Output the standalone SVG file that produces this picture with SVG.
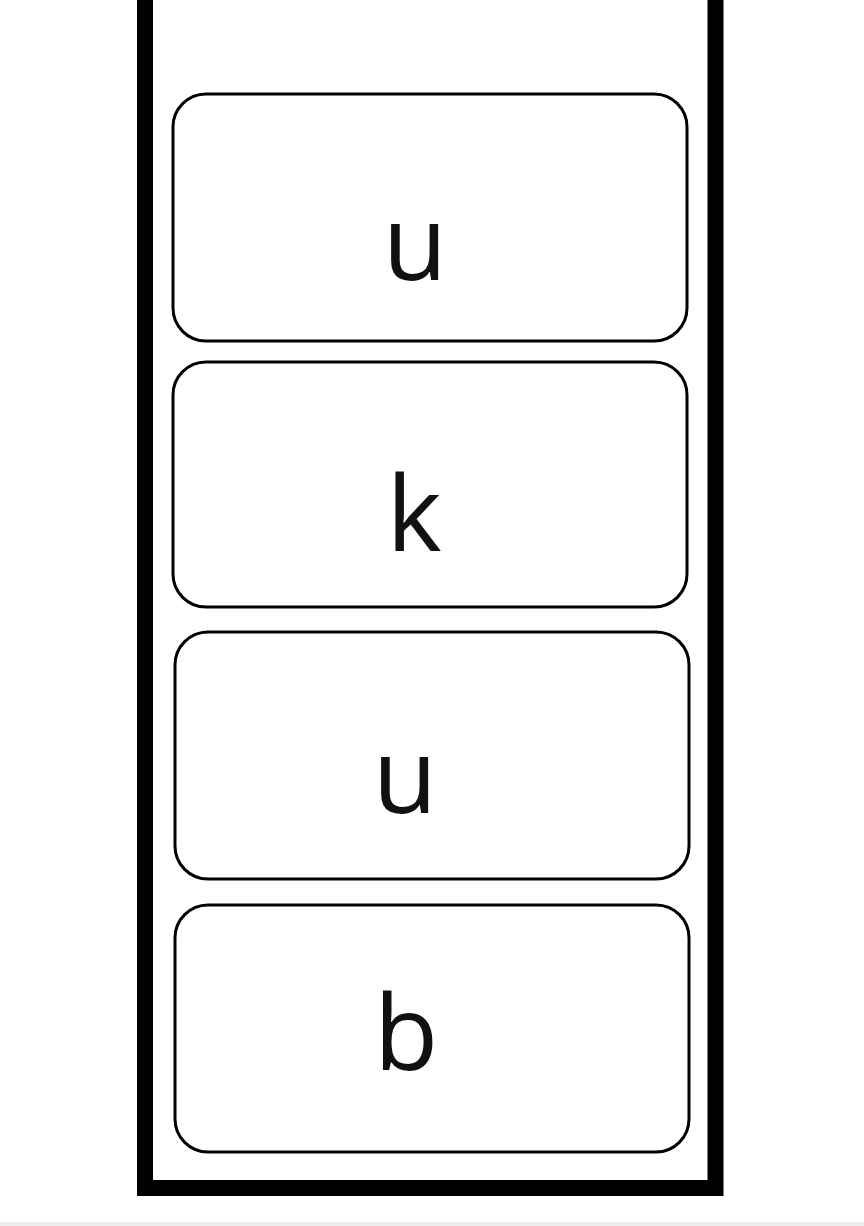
<svg xmlns="http://www.w3.org/2000/svg" width="864" height="1226" viewBox="0 0 864 1226">
  <style>
    .frame { fill: none; stroke: #000; stroke-width: 16; }
    .node rect { fill: #fff; stroke: #000; stroke-width: 3; }
    .node text { font-family: "Open Sans", "Noto Sans", sans-serif; font-size: 105px; fill: #111; text-anchor: middle; }
  </style>
  <rect x="0" y="0" width="864" height="1226" fill="#fff"/>
  <rect x="0" y="1222" width="864" height="4" fill="#efefef"/>
  <g id="container">
    <rect class="frame" x="145" y="-40" width="570.5" height="1228"/>
  </g>
  <g id="node-u1" class="node">
    <rect x="173" y="94" width="514" height="247" rx="33" ry="33"/>
    <text x="415" y="280">u</text>
  </g>
  <g id="node-k" class="node">
    <rect x="173" y="362" width="514" height="245" rx="33" ry="33"/>
    <text x="414" y="551">k</text>
  </g>
  <g id="node-u2" class="node">
    <rect x="175" y="632" width="514" height="247" rx="33" ry="33"/>
    <text x="405" y="813">u</text>
  </g>
  <g id="node-b" class="node">
    <rect x="175" y="905" width="514" height="247" rx="33" ry="33"/>
    <text x="406" y="1070">b</text>
  </g>
  <g id="connectors"></g>
</svg>
